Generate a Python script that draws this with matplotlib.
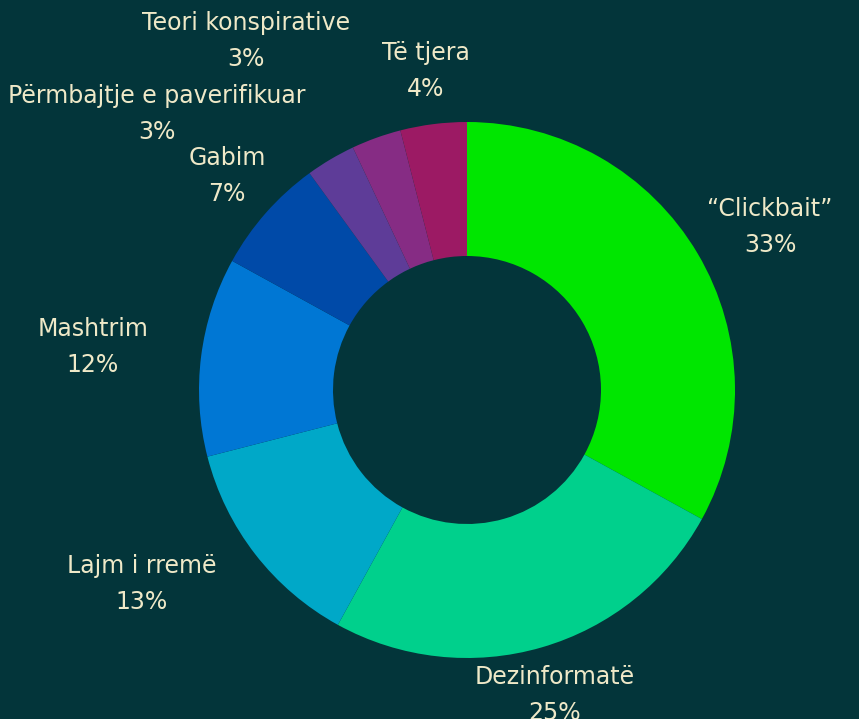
import numpy as np
import matplotlib.pyplot as plt

categories = ["\u201cClickbait\u201d", "Dezinformat\u00eb", "Lajm i rrem\u00eb", "Mashtrim",
              "Gabim", "P\u00ebrmbajtje e paverifikuar", "Teori konspirative", "T\u00eb tjera"]
shares = [33, 25, 13, 12, 7, 3, 3, 4]
colors = ["#00e600", "#00d08c", "#00a8c8", "#0077d4", "#004aa8", "#5e3c98", "#862c84", "#9c1a64"]

bg = "#03353a"
text_col = "#efe9c8"

W, H = 859, 719
fig = plt.figure(figsize=(W / 100, H / 100), dpi=100, facecolor=bg)
ax = fig.add_axes([0, 0, 1, 1])
ax.set_facecolor(bg)

cx, cy, R = 467, H - 390, 268
wedges, _ = ax.pie(shares, colors=colors, startangle=90, counterclock=False,
                   center=(cx, cy), radius=R, frame=True,
                   wedgeprops=dict(width=R * 0.5, linewidth=0))
ax.set_xlim(0, W)
ax.set_ylim(0, H)
ax.set_aspect("equal")
ax.axis("off")

# label placement: pixel positions (center of the two-line label)
label_pos = [(770, 227), (555, 695), (142, 584), (93, 347),
             (227, 176), (157, 114), (246, 41), (426, 71)]
for name, val, (x, y) in zip(categories, shares, label_pos):
    ax.text(x, H - y, f"{name}\n{val}%", ha="center", va="center",
            color=text_col, fontsize=17, family="DejaVu Sans", linespacing=1.6)

fig.savefig("out.png", dpi=100, facecolor=bg)
